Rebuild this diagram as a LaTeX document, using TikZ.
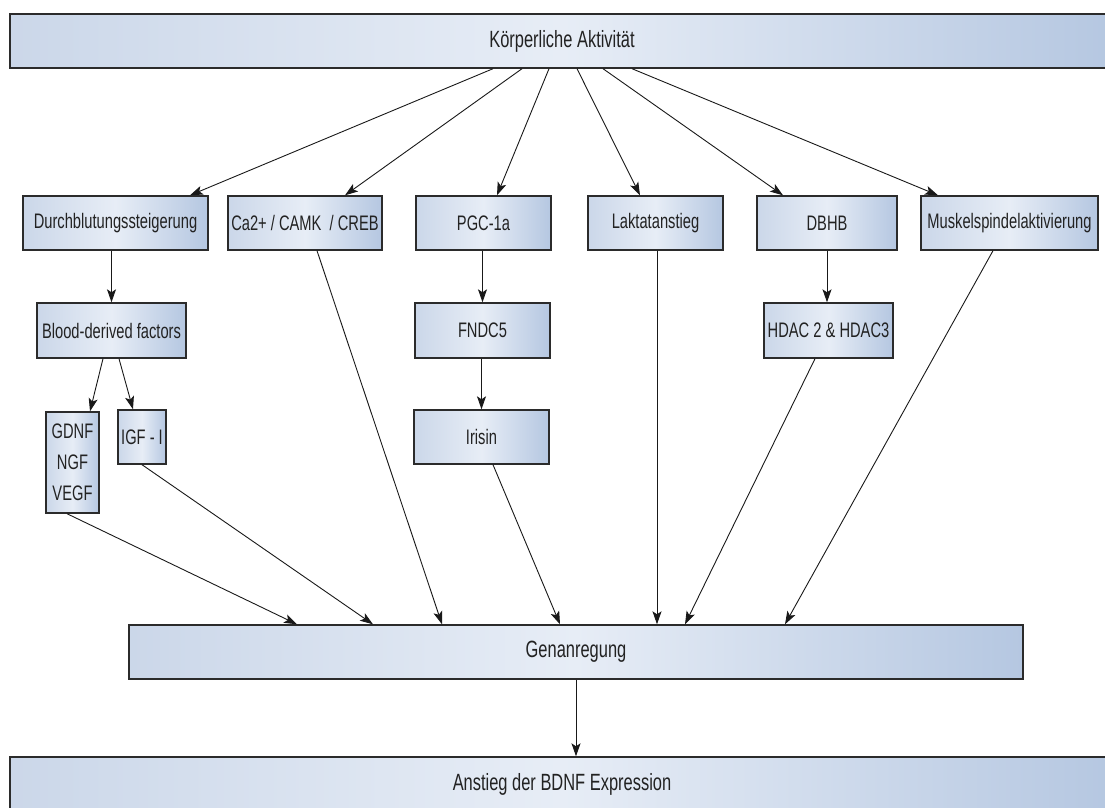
\documentclass[tikz,border=0pt]{standalone}
\usepackage{fontspec}
\setmainfont{Liberation Sans}[FakeStretch=0.70]
\usetikzlibrary{arrows.meta}
\definecolor{boxleft}{HTML}{CBD7E9}
\definecolor{boxmid}{HTML}{E7EDF6}
\definecolor{boxright}{HTML}{B5C7E1}
\definecolor{boxline}{HTML}{2B2B2B}
\definecolor{txt}{HTML}{222222}
\tikzset{
  stepbox/.style={draw=boxline, line width=1.4pt, left color=boxleft, right color=boxright,
    middle color=boxmid, text=txt, font=\fontsize{21}{31}\selectfont,
    inner sep=0pt, align=center},
  barbox/.style={stepbox, font=\fontsize{23.5}{28}\selectfont, minimum height=54pt},
  link/.style={draw=black!90, line width=0.9pt, -{Stealth[length=13pt,width=9pt,inset=3pt]}}
}
\begin{document}
\begin{tikzpicture}[x=1pt,y=-1pt]
\useasboundingbox (0,0) rectangle (1105,808);
\clip (0,0) rectangle (1105,808);

% wide bars
\node[barbox, minimum width=1104pt] (top) at (562,41) {Körperliche Aktivität};
\node[barbox, minimum width=894pt] (gen) at (576,652) {Genanregung};
\node[barbox, minimum width=1104pt] (bdnf) at (562,784) {Anstieg der BDNF Expression};

% first row
\node[stepbox, minimum width=185pt, minimum height=54pt] (dur) at (115.5,223) {Durchblutungssteigerung};
\node[stepbox, minimum width=154pt, minimum height=54pt] (ca) at (305,223) {Ca2+ / CAMK~ / CREB};
\node[stepbox, minimum width=135pt, minimum height=54pt] (pgc) at (483.5,223) {PGC-1a};
\node[stepbox, minimum width=135pt, minimum height=54pt] (lak) at (655.5,223) {Laktatanstieg};
\node[stepbox, minimum width=140pt, minimum height=54pt] (dbhb) at (827,223) {DBHB};
\node[stepbox, minimum width=177pt, minimum height=54pt] (musk) at (1009.5,223) {Muskelspindelaktivierung};

% second row
\node[stepbox, minimum width=149pt, minimum height=55pt] (blood) at (111.5,330.5) {Blood-derived factors};
\node[stepbox, minimum width=135pt, minimum height=55pt] (fndc) at (482.5,330.5) {FNDC5};
\node[stepbox, minimum width=129pt, minimum height=55pt] (hdac) at (828.5,330.5) {HDAC 2 \& HDAC3};

% third row
\node[stepbox, minimum width=53pt, minimum height=101pt] (gdnf) at (72.5,462.5) {GDNF\\NGF\\VEGF};
\node[stepbox, minimum width=48pt, minimum height=54pt] (igf) at (142,437) {IGF - I};
\node[stepbox, minimum width=135pt, minimum height=54pt] (iris) at (481.5,437) {Irisin};

% from the activity bar
\draw[link] ([xshift=-69pt]top.south) -- ([xshift=74.5pt]dur.north);
\draw[link] ([xshift=-40pt]top.south) -- ([xshift=40pt]ca.north);
\draw[link] ([xshift=-13pt]top.south) -- ([xshift=13.5pt]pgc.north);
\draw[link] ([xshift=15pt]top.south) -- ([xshift=-15.5pt]lak.north);
\draw[link] ([xshift=41pt]top.south) -- ([xshift=-44pt]dbhb.north);
\draw[link] ([xshift=70pt]top.south) -- ([xshift=-71.5pt]musk.north);

% intermediate chains
\draw[link] (dur.south -| blood.north) -- (blood.north);
\draw[link] ([xshift=-8.5pt]blood.south) -- ([xshift=17.5pt]gdnf.north);
\draw[link] ([xshift=7.5pt]blood.south) -- ([xshift=-9pt]igf.north);
\draw[link] (pgc.south -| fndc.north) -- (fndc.north);
\draw[link] (fndc.south -| iris.north) -- (iris.north);
\draw[link] (dbhb.south) -- (dbhb.south |- hdac.north);

% into gene activation
\draw[link] ([xshift=-5.5pt]gdnf.south) -- ([xshift=-279pt]gen.north);
\draw[link] (igf.south) -- ([xshift=-203pt]gen.north);
\draw[link] ([xshift=12pt]ca.south) -- ([xshift=-134pt]gen.north);
\draw[link] ([xshift=11.5pt]iris.south) -- ([xshift=-16pt]gen.north);
\draw[link] ([xshift=1.5pt]lak.south) -- ([xshift=81pt]gen.north);
\draw[link] ([xshift=-13.5pt]hdac.south) -- ([xshift=109pt]gen.north);
\draw[link] ([xshift=-16.5pt]musk.south) -- ([xshift=209pt]gen.north);

\draw[link] (gen.south) -- (bdnf.north -| gen.south);
\end{tikzpicture}
\end{document}
